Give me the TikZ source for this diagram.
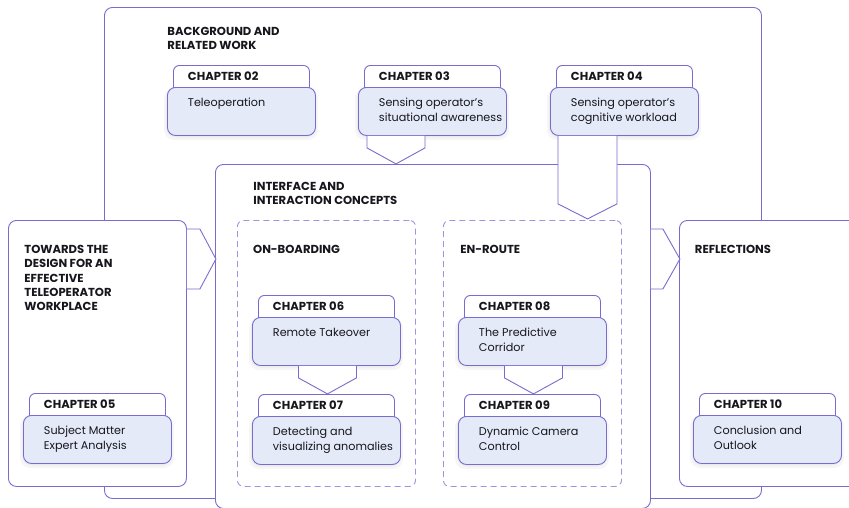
\documentclass[tikz,border=0pt]{standalone}
\usepackage{fontspec}
\setmainfont{Poppins}
\usetikzlibrary{calc}

\definecolor{edge}{RGB}{121,108,208}
\definecolor{dashedge}{RGB}{158,148,224}
\definecolor{cardfill}{RGB}{229,234,249}
\definecolor{ink}{RGB}{22,22,28}

% lines set from the first baseline down
\newcommand\toplines[1]{\parbox[t]{260pt}{\raggedright #1}}

\tikzset{
  panel/.style={draw=edge, fill=white, rounded corners=8pt, inner sep=0pt, anchor=north west},
  group/.style={draw=dashedge, dash pattern=on 6pt off 4pt, rounded corners=6pt, inner sep=0pt, anchor=north west,
                minimum width=178pt, minimum height=266pt},
  cardtab/.style={draw=edge, fill=white, rounded corners=6pt, inner sep=0pt, anchor=north west,
                  minimum width=136pt, minimum height=30pt},
  cardbody/.style={draw=edge, fill=cardfill, rounded corners=8pt, inner sep=0pt, anchor=north west,
                   minimum width=148pt, minimum height=48pt},
  cardshade/.style={fill=black, rounded corners=10pt},
  chev/.style={draw=edge, fill=white, line join=miter},
  heading/.style={font=\bfseries\fontsize{11.6}{14.4}\selectfont, text=ink, anchor=base west, inner sep=0pt},
  chaplabel/.style={font=\bfseries\fontsize{11.6}{14.4}\selectfont, text=ink, anchor=base west, inner sep=0pt},
  cardtext/.style={font=\fontsize{11.2}{15}\selectfont, text=ink, anchor=base west, inner sep=0pt},
}

% one chapter card: #1 id, #2 left, #3 top of the body, #4 chapter, #5 title
\newcommand\chaptercard[5]{%
  \node[cardtab] (t#1) at (#2+6,#3-22) {};
  \fill[cardshade, opacity=0.035] (#2-3,#3+1) rectangle (#2+151,#3+53);
  \fill[cardshade, opacity=0.04] (#2-1,#3+1) rectangle (#2+149,#3+50.5);
  \node[cardbody] (b#1) at (#2,#3) {};
  \node[chaplabel] (l#1) at (#2+20.5,#3-6.3) {#4};
  \node[cardtext] (x#1) at (#2+20.5,#3+19.7) {\toplines{#5}};
}

\begin{document}
\begin{tikzpicture}[x=1pt, y=-1pt, line width=0.9pt]
\useasboundingbox (0,0) rectangle (849,507);

% panels
\node[panel, minimum width=657pt, minimum height=491pt] (bg) at (104,7) {};
\node[panel, minimum width=178pt, minimum height=266pt] (lft) at (8,220) {};
\node[panel, minimum width=435pt, minimum height=344pt] (mid) at (215,164) {};
\node[panel, minimum width=190pt, minimum height=266pt] (rgt) at (679,220) {};

% arrows between the panels
\draw[chev] ($(lft.north east)+(0,9)$) -- ++(13,0) -- ++(16,30) -- ++(-16,30) -- ++(-13,0);
\draw[chev] ($(mid.north east)+(0,65)$) -- ++(12,0) -- ++(17,30) -- ++(-17,30) -- ++(-12,0);

% sub-groups of the interface panel
\node[group] (onb) at (237,220) {};
\node[group] (enr) at (443,220) {};

% chapter cards
\chaptercard{02}{167}{87}{CHAPTER 02}{Teleoperation}
\chaptercard{03}{358}{87}{CHAPTER 03}{Sensing operator's\\situational awareness}
\chaptercard{04}{550}{87}{CHAPTER 04}{Sensing operator's\\cognitive workload}
\chaptercard{05}{23}{415}{CHAPTER 05}{Subject Matter\\Expert Analysis}
\chaptercard{06}{252}{317}{CHAPTER 06}{Remote Takeover}
\chaptercard{07}{252}{416}{CHAPTER 07}{Detecting and\\visualizing anomalies}
\chaptercard{08}{458}{317}{CHAPTER 08}{The Predictive\\Corridor}
\chaptercard{09}{458}{416}{CHAPTER 09}{Dynamic Camera\\Control}
\chaptercard{10}{693}{415}{CHAPTER 10}{Conclusion and\\Outlook}

% arrows leaving the cards
\draw[chev] ($(b03.south west)+(9,0)$) -- ++(0,12) -- ++(29,16) -- ++(29,-16) -- ++(0,-12);
\draw[chev] ($(b04.south west)+(8,0)$) -- ++(0,68) -- ++(29.5,15) -- ++(29.5,-15) -- ++(0,-68);
\draw[chev] ($(b06.south)+(-28,0)$) -- ++(0,12) -- ++(29,16) -- ++(29,-16) -- ++(0,-12);
\draw[chev] ($(b08.south)+(-28,0)$) -- ++(0,12) -- ++(29,16) -- ++(29,-16) -- ++(0,-12);

% panel and group titles
\node[heading] (hbg) at (167,35) {\toplines{BACKGROUND AND\\RELATED WORK}};
\node[heading] (hmid) at (253,190) {\toplines{INTERFACE AND\\INTERACTION CONCEPTS}};
\node[heading] (hlft) at (24,253.3) {\toplines{TOWARDS THE\\DESIGN FOR AN\\EFFECTIVE\\TELEOPERATOR\\WORKPLACE}};
\node[heading] (hrgt) at (694.5,253.3) {REFLECTIONS};
\node[heading] (honb) at (252.7,253.3) {ON-BOARDING};
\node[heading] (henr) at (460,253.3) {EN-ROUTE};
\end{tikzpicture}
\end{document}
